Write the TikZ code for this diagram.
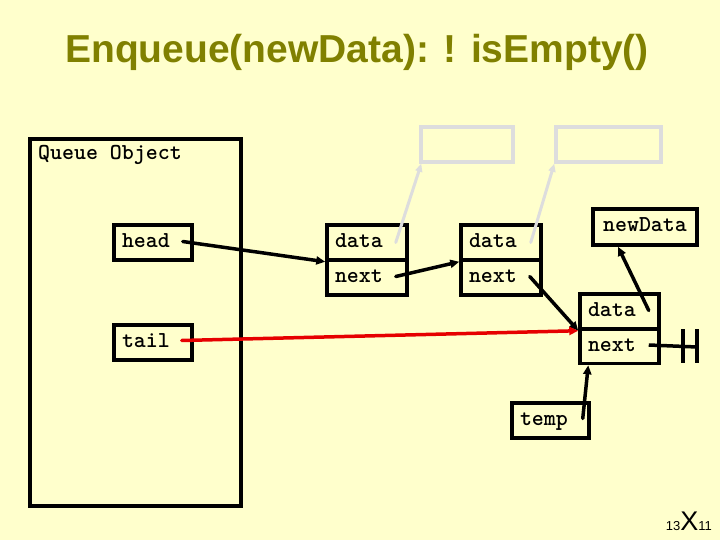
\documentclass[tikz,border=0pt]{standalone}
\usepackage{fontspec}
\newfontfamily\slidefont{Liberation Sans}
\usetikzlibrary{arrows.meta,positioning,calc}
\definecolor{SlideYellow}{HTML}{FFFFCC}
\definecolor{TitleOlive}{HTML}{808000}
\definecolor{GhostGray}{HTML}{DDDDDD}
\definecolor{LinkRed}{HTML}{E60000}

\newcommand\codefont{\fontsize{22.8}{24}\selectfont\ttfamily\bfseries}

\tikzset{
  cell/.style={draw,line width=3.5pt,font=\codefont,
    text width=#1,inner xsep=8pt,inner ysep=0pt,align=left,
    minimum height=35pt,text height=12pt,text depth=2pt},
  ghost/.style={draw=GhostGray,line width=3.5pt,minimum height=35pt},
  link/.style={line width=3.5pt,line cap=round,-{Triangle[length=9pt,width=8pt]}},
  ghostlink/.style={GhostGray,line width=3pt,line cap=round,-{Triangle[length=8pt,width=7pt]}}
}

\begin{document}
\begin{tikzpicture}[x=1pt,y=-1pt]
  \fill[SlideYellow] (0,0) rectangle (720,540);
  \useasboundingbox (0,0) rectangle (720,540);

  % title
  \node[anchor=base,inner sep=0pt,TitleOlive,font=\slidefont\bfseries\fontsize{39}{42}\selectfont]
    (title) at (357,63) {Enqueue(newData): ! isEmpty()};

  % queue object
  \draw[line width=4pt] (30,139) rectangle (241,506);
  \node[anchor=base west,inner sep=0pt,font=\codefont]
    (qobj) at (38,160) {Queue Object};
  \node[cell=62pt] (head) at (153,242.5) {head};
  \node[cell=62pt] (tail) at (153,342.5) {tail};

  % list nodes
  \node[cell=64pt] (d1) at (367,242.5) {data};
  \node[cell=64pt] (n1) at (367,277.5) {next};
  \node[cell=64pt] (d2) at (501,242.5) {data};
  \node[cell=64pt] (n2) at (501,277.5) {next};
  \node[ghost,minimum width=92pt] (g1) at (467,144.5) {};
  \node[ghost,minimum width=105pt] (g2) at (608.5,144.5) {};

  % new node
  \node[cell=88pt,align=center,minimum height=36pt] (newdata) at (645,227) {newData};
  \node[cell=63pt] (d3) at (619.5,311.5) {data};
  \node[cell=63pt] (n3) at (619.5,346) {next};
  \node[cell=61pt] (temp) at (550.5,420.5) {temp};

  % links
  \draw[ghostlink] ([xshift=-13pt]d1.east) -- ([xshift=2pt]g1.south west);
  \draw[ghostlink] ([xshift=-12pt]d2.east) -- (g2.south west);
  \draw[link] ([xshift=-11pt,yshift=1pt]head.east) -- (d1.south west);
  \draw[link] ([xshift=-13pt,yshift=1pt]n1.east) -- (d2.south west);
  \draw[link] ([xshift=-13pt,yshift=1pt]n2.east) -- (d3.south west);
  \draw[link,LinkRed] ([xshift=-12pt,yshift=2pt]tail.east) -- (d3.south west);
  \draw[link] ([xshift=-12pt,yshift=1pt]d3.east) -- ([xshift=-27pt]newdata.south);
  \draw[link] ([xshift=-8pt,yshift=2pt]temp.east) -- ([xshift=10pt]n3.south west);

  % null
  \coordinate (nil) at (697,347);
  \draw[line width=3.5pt] ([xshift=-12pt,yshift=1pt]n3.east) -- (nil);
  \draw[line width=3.5pt] (683,329) -- (683,363) (697,329) -- (697,363);

  % page number
  \node[anchor=base east,inner sep=0pt,font=\slidefont] (pgno) at (712,530)
    {\fontsize{13}{14}\selectfont 13\fontsize{27}{28}\selectfont X\fontsize{13}{14}\selectfont 11};
\end{tikzpicture}
\end{document}
